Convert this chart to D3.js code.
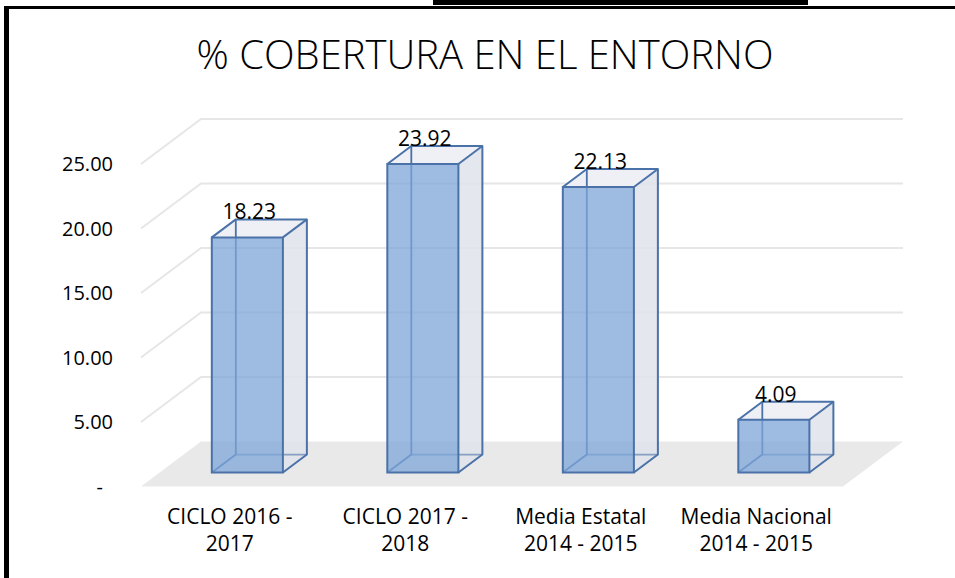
<!DOCTYPE html>
<html>
<head>
<meta charset="utf-8">
<script src="https://cdn.jsdelivr.net/npm/d3@7"></script>
<style>
  html, body { margin: 0; padding: 0; background: #fff; }
  svg { display: block; }
  text { font-family: "Open Sans", "DejaVu Sans", sans-serif; fill: #000; }
</style>
</head>
<body>
<svg id="chart" width="955" height="578"></svg>
<script>
// Data
var categories = [
  ['CICLO 2016 -', '2017'],
  ['CICLO 2017 -', '2018'],
  ['Media Estatal', '2014 - 2015'],
  ['Media Nacional', '2014 - 2015']
];
var values = [18.23, 23.92, 22.13, 4.09];
var tickValues = [0, 5, 10, 15, 20, 25];
var tickLabels = ['-', '5.00', '10.00', '15.00', '20.00', '25.00'];

// 3d frame: front plane + a depth offset vector
var W = 955, H = 578;
var depth = {dx: 60, dy: -45},
    boxNear = 0.31, boxFar = 0.71;   // where the bars sit inside the depth

var svg = d3.select('#chart');

var y = d3.scaleLinear().domain([0, 25]).range([486.5, 164]);
var x = d3.scaleBand()
  .domain(d3.range(categories.length))
  .range([141, 843])
  .paddingInner(0.595)
  .paddingOuter(0.2975);

// project a front-plane point back by depth fraction d
function proj(px, v, d) {
  return [px + d * depth.dx, y(v) + d * depth.dy];
}
function poly(pts) { return pts.map(function (p) { return p.join(','); }).join(' '); }

// frame borders (screenshot edges)
svg.append('rect').attr('x', 433).attr('y', 0).attr('width', 375).attr('height', 5).attr('fill', '#000');
svg.append('rect').attr('x', 4).attr('y', 6).attr('width', W - 4).attr('height', 3).attr('fill', '#000');
svg.append('rect').attr('x', 4).attr('y', 6).attr('width', 5).attr('height', H - 6).attr('fill', '#000');

// title
svg.append('text')
  .attr('x', 485).attr('y', 69)
  .attr('text-anchor', 'middle')
  .style('font-size', '40px')
  .style('font-weight', 300)
  .text('% COBERTURA EN EL ENTORNO');

var x0 = x.range()[0], x1 = x.range()[1];

// floor
svg.append('polygon')
  .attr('points', poly([proj(x0, 0, 0), proj(x0, 0, 1), proj(x1, 0, 1), proj(x1, 0, 0)]))
  .attr('fill', '#e9e9e9');

// gridlines: back wall + left wall diagonals
var grid = svg.append('g').attr('fill', 'none').attr('stroke', '#e6e6e6').attr('stroke-width', 2);
tickValues.filter(function (t) { return t > 0; }).forEach(function (t) {
  grid.append('polyline')
    .attr('points', poly([proj(x0, t, 0), proj(x0, t, 1), proj(x1, t, 1)]));
});

// y tick labels
svg.append('g').selectAll('text')
  .data(tickValues)
  .enter().append('text')
  .attr('x', function (d) { return d === 0 ? 103 : 113; })
  .attr('y', function (d) { return y(d); })
  .attr('dy', '0.35em')
  .attr('text-anchor', 'end')
  .style('font-size', '20px')
  .text(function (d, i) { return tickLabels[i]; });

// bars as transparent boxes
var edge = '#4a72a8';
values.forEach(function (v, i) {
  var a = x(i), b = x(i) + x.bandwidth();
  var f = [proj(a, 0, boxNear), proj(b, 0, boxNear), proj(b, v, boxNear), proj(a, v, boxNear)];
  var k = [proj(a, 0, boxFar), proj(b, 0, boxFar), proj(b, v, boxFar), proj(a, v, boxFar)];
  var g = svg.append('g');

  // right side and top
  g.append('polygon').attr('points', poly([f[1], k[1], k[2], f[2]]))
    .attr('fill', '#dfe3ea').attr('fill-opacity', 0.85);
  g.append('polygon').attr('points', poly([f[3], f[2], k[2], k[3]]))
    .attr('fill', '#eef0f5');

  // hidden edges
  g.append('polyline').attr('points', poly([f[0], k[0], k[3]]))
    .attr('fill', 'none').attr('stroke', edge).attr('stroke-width', 1.8);
  g.append('line')
    .attr('x1', k[0][0]).attr('y1', k[0][1]).attr('x2', k[1][0]).attr('y2', k[1][1])
    .attr('stroke', edge).attr('stroke-width', 1.8).attr('stroke-opacity', 0.6);

  // front face
  g.append('polygon').attr('points', poly(f))
    .attr('fill', '#7ea6d8').attr('fill-opacity', 0.75);

  // visible outline
  g.append('polygon').attr('points', poly(f))
    .attr('fill', 'none').attr('stroke', edge).attr('stroke-width', 2);
  g.append('polyline').attr('points', poly([f[3], k[3], k[2], k[1], f[1]]))
    .attr('fill', 'none').attr('stroke', edge).attr('stroke-width', 2).attr('stroke-linejoin', 'round');
  g.append('line')
    .attr('x1', f[2][0]).attr('y1', f[2][1]).attr('x2', k[2][0]).attr('y2', k[2][1])
    .attr('stroke', edge).attr('stroke-width', 2);

  // data label
  svg.append('text')
    .attr('x', (f[0][0] + f[1][0]) / 2 + 2)
    .attr('y', f[3][1] - 18)
    .attr('text-anchor', 'middle')
    .style('font-size', '21px')
    .text(v.toFixed(2));
});

// category labels
var cat = svg.append('g').selectAll('text')
  .data(categories)
  .enter().append('text')
  .attr('text-anchor', 'middle')
  .style('font-size', '21px');
cat.each(function (lines, i) {
  var t = d3.select(this);
  lines.forEach(function (s, j) {
    t.append('tspan')
      .attr('x', x(i) + x.bandwidth() / 2 + 1)
      .attr('y', 524 + j * 27)
      .text(s);
  });
});
</script>
</body>
</html>
